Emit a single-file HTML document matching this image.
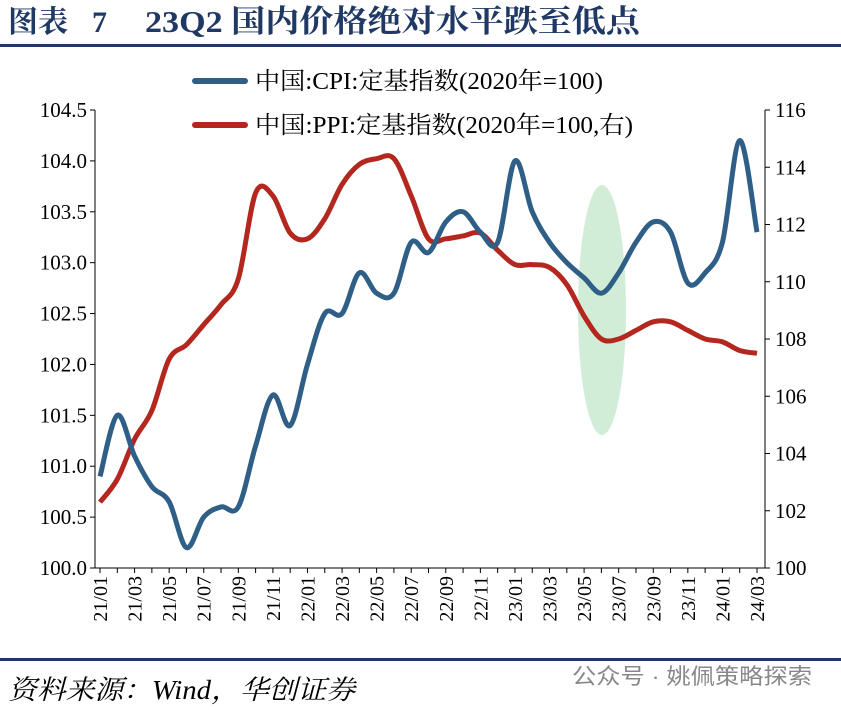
<!DOCTYPE html>
<html><head><meta charset="utf-8">
<style>
body{margin:0;background:#fff;}
svg{display:block;}
</style></head>
<body>
<svg id="chart" width="841" height="710" xmlns="http://www.w3.org/2000/svg">
<text x="8" y="32" font-family="'Liberation Serif','Noto Serif CJK SC',serif" font-weight="bold" font-size="30" fill="#1f3864">图表</text>
<text x="92" y="32" font-family="'Liberation Serif','Noto Serif CJK SC',serif" font-weight="bold" font-size="30" fill="#1f3864">7</text>
<text x="145" y="32" textLength="495" lengthAdjust="spacingAndGlyphs" font-family="'Liberation Serif','Noto Serif CJK SC',serif" font-weight="bold" font-size="31" fill="#1f3864">23Q2 国内价格绝对水平跌至低点</text>
<rect x="0" y="44" width="841" height="3" fill="#1f3864"/>
<rect x="0" y="658" width="841" height="3" fill="#1f3864"/>
<text x="8" y="699" textLength="347" lengthAdjust="spacingAndGlyphs" font-family="'Liberation Serif','Noto Serif CJK SC',serif" font-style="italic" font-size="27" fill="#000">资料来源：Wind，华创证券</text>
<text x="572" y="684" textLength="240" lengthAdjust="spacingAndGlyphs" font-family="'Liberation Sans','Noto Sans CJK SC',sans-serif" font-size="22" fill="#888">公众号 · 姚佩策略探索</text>
<ellipse cx="602" cy="310" rx="24" ry="125" fill="#cdebd3" opacity="0.9"/>
<g id="axes"></g>
<g id="series"></g>
<g>
<line x1="195" y1="81" x2="245" y2="81" stroke="#2f5f86" stroke-width="6" stroke-linecap="round"/>
<text x="255" y="89" textLength="348" lengthAdjust="spacingAndGlyphs" font-family="'Liberation Serif','Noto Serif CJK SC',serif" font-size="24">中国:CPI:定基指数(2020年=100)</text>
<line x1="195" y1="125" x2="245" y2="125" stroke="#b3271f" stroke-width="6" stroke-linecap="round"/>
<text x="255" y="133" textLength="378" lengthAdjust="spacingAndGlyphs" font-family="'Liberation Serif','Noto Serif CJK SC',serif" font-size="24">中国:PPI:定基指数(2020年=100,右)</text>
</g>
</svg>
<script>
const months=["21/01","21/02","21/03","21/04","21/05","21/06","21/07","21/08","21/09","21/10","21/11","21/12","22/01","22/02","22/03","22/04","22/05","22/06","22/07","22/08","22/09","22/10","22/11","22/12","23/01","23/02","23/03","23/04","23/05","23/06","23/07","23/08","23/09","23/10","23/11","23/12","24/01","24/02","24/03"];
const cpi=[100.9,101.5,101.1,100.8,100.65,100.2,100.5,100.6,100.6,101.2,101.7,101.4,102.0,102.5,102.5,102.9,102.7,102.7,103.2,103.1,103.4,103.5,103.3,103.2,104.0,103.5,103.2,103.0,102.85,102.7,102.9,103.2,103.4,103.3,102.8,102.9,103.2,104.2,103.3];
const ppi=[102.3,103.1,104.5,105.5,107.3,107.8,108.5,109.2,110.1,113.1,113.0,111.7,111.5,112.2,113.4,114.1,114.3,114.3,113.0,111.5,111.5,111.6,111.7,111.1,110.6,110.6,110.5,109.9,108.8,108.0,108.0,108.3,108.6,108.6,108.3,108.0,107.9,107.6,107.5];
const leftTicks=[100.0,100.5,101.0,101.5,102.0,102.5,103.0,103.5,104.0,104.5];
const rightTicks=[100,102,104,106,108,110,112,114,116];
const NS="http://www.w3.org/2000/svg";
const X0=100,X1=757,YT=110,YB=568,AL=95,AR=765;
const xS=i=>X0+(X1-X0)*i/(months.length-1);
const yL=v=>YB-(v-100)/4.5*(YB-YT);
const yR=v=>YB-(v-100)/16*(YB-YT);
const ax=document.getElementById('axes'),se=document.getElementById('series');
function mk(t,a,p){const e=document.createElementNS(NS,t);for(const k in a)e.setAttribute(k,a[k]);p.appendChild(e);return e;}
const font="'Liberation Serif',serif";
let l=mk('line',{x1:AL,y1:YT,x2:AL,y2:YB,stroke:'#000','stroke-width':1},ax);


l=mk('line',{x1:AR,y1:YT,x2:AR,y2:YB,stroke:'#000','stroke-width':1},ax);


l=mk('line',{x1:AL,y1:YB,x2:AR,y2:YB,stroke:'#000','stroke-width':1},ax);


leftTicks.forEach(v=>{const y=yL(v);
 mk('line',{x1:AL-5,y1:y,x2:AL,y2:y,stroke:'#000'},ax);
 const t=mk('text',{x:AL-8,y:y+7,'text-anchor':'end','font-family':font,'font-size':21},ax);t.textContent=v.toFixed(1);
 
 });
rightTicks.forEach(v=>{const y=yR(v);
 mk('line',{x1:AR,y1:y,x2:AR+5,y2:y,stroke:'#000'},ax);
 const t=mk('text',{x:AR+10,y:y+7,'font-family':font,'font-size':21},ax);t.textContent=v;
 
 });
months.forEach((m,i)=>{const x=xS(i);
 mk('line',{x1:x,y1:YB,x2:x,y2:YB+5,stroke:'#000'},ax);
 if(i%2==0){const t=mk('text',{x:0,y:0,'font-family':font,'font-size':20,'text-anchor':'end',transform:`translate(${x+7},${YB+8}) rotate(-90)`},ax);t.textContent=m;
 
 }});
function path(vals,ys){const p=vals.map((v,i)=>[xS(i),ys(v)]);let d=`M${p[0][0]},${p[0][1]}`;
 for(let i=0;i<p.length-1;i++){const p0=p[i-1]||p[i],p1=p[i],p2=p[i+1],p3=p[i+2]||p2;
  d+=`C${p1[0]+(p2[0]-p0[0])/6},${p1[1]+(p2[1]-p0[1])/6} ${p2[0]-(p3[0]-p1[0])/6},${p2[1]-(p3[1]-p1[1])/6} ${p2[0]},${p2[1]}`;}
 return d;}
let s=mk('path',{d:path(ppi,yR),fill:'none',stroke:'#b3271f','stroke-width':5,'stroke-linejoin':'round'},se);


s=mk('path',{d:path(cpi,yL),fill:'none',stroke:'#2f5f86','stroke-width':5,'stroke-linejoin':'round'},se);


</script>
</body></html>
